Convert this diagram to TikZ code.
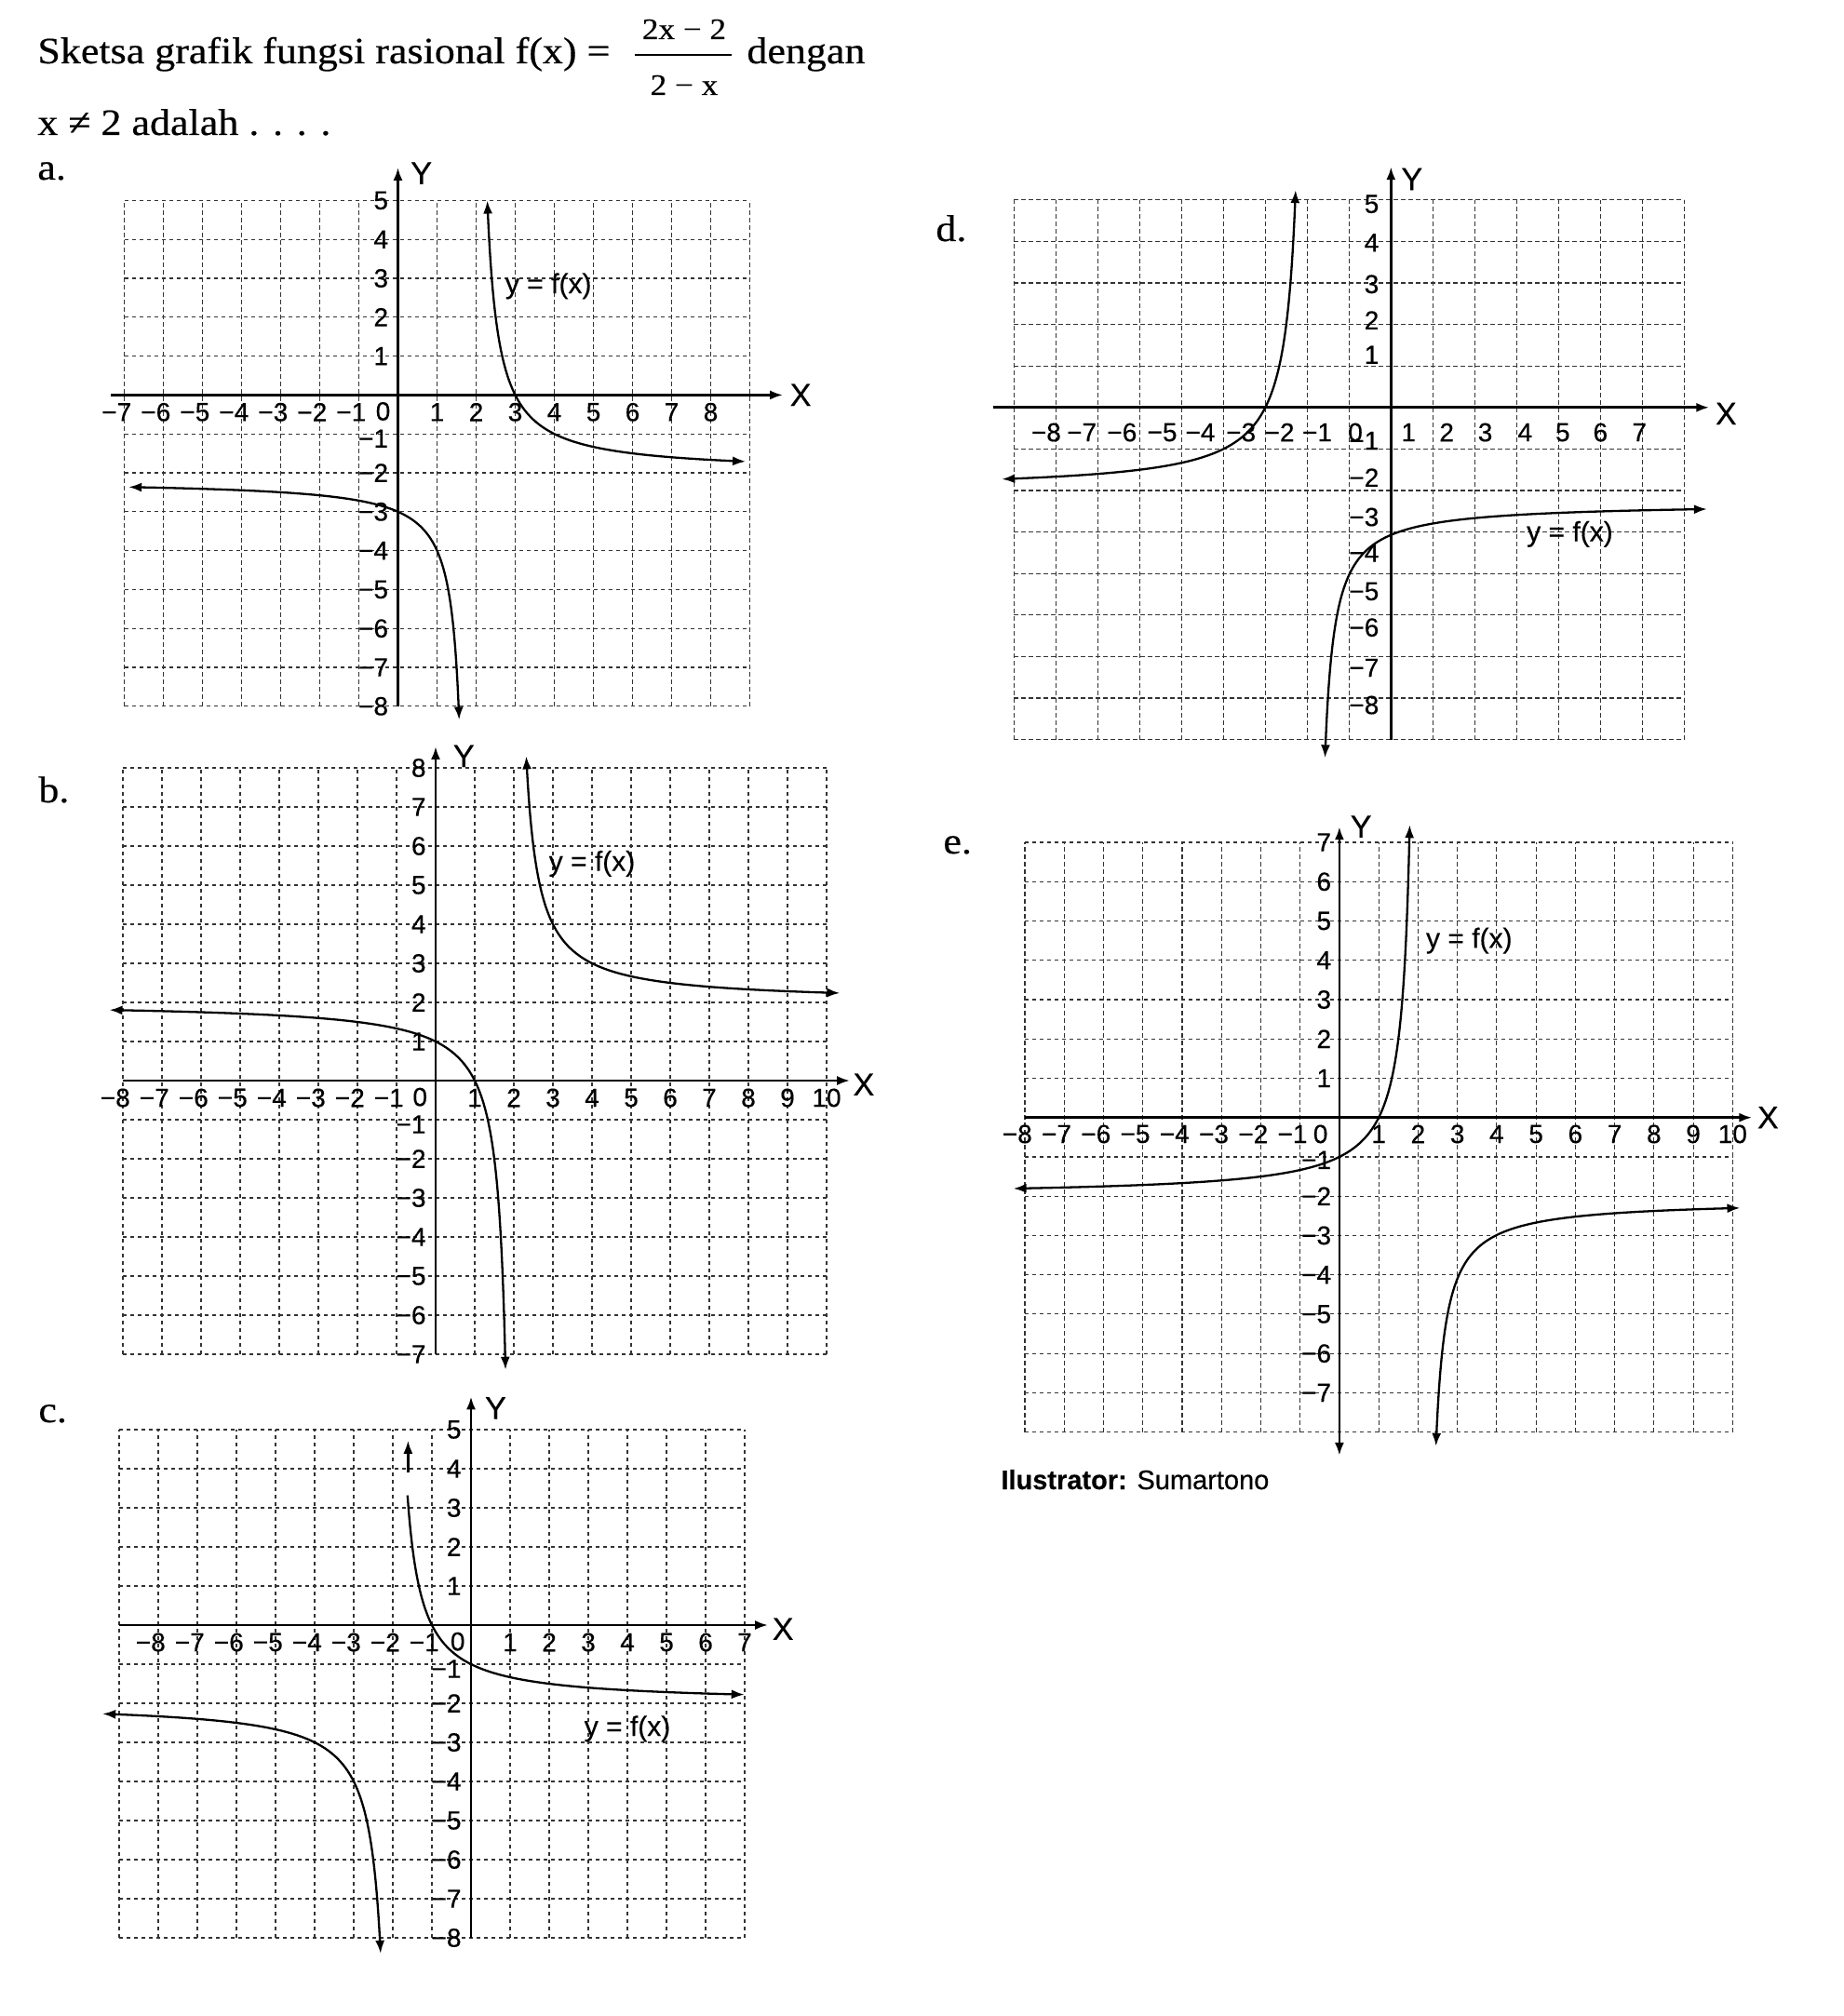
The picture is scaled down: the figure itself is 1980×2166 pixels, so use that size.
\documentclass[tikz,border=0pt]{standalone}
\usepackage{fontspec}
\setmainfont{Liberation Serif}[FakeStretch=1.1,FakeBold=0.4]
\newfontfamily\sansf{Liberation Sans}[FakeBold=0.35]
\usetikzlibrary{arrows.meta}
\tikzset{
  gridl/.style={line width=0.55pt, dash pattern=on 2.2pt off 1.8pt, black!80},
  axisl/.style={line width=1.4pt},
  curvel/.style={line width=1.15pt},
  tk/.style={font=\sansf\fontsize{14}{15}\selectfont, inner sep=0pt},
  xtk/.style={tk, anchor=center},
  ytk/.style={tk, anchor=east},
  axlab/.style={font=\sansf\fontsize{17}{18}\selectfont, inner sep=0pt},
  fxlab/.style={font=\sansf\fontsize{15}{16}\selectfont, inner sep=0pt},
  serif/.style={font=\fontsize{20}{24}\selectfont, inner sep=0pt, anchor=base west},
  fracf/.style={font=\fontsize{16}{18}\selectfont, inner sep=0pt, anchor=base},
  >={Latex[length=7pt,width=5pt]}
}
\begin{document}
\begin{tikzpicture}[x=0.5pt,y=-0.5pt]
\fill[white] (0,0) rectangle (1980,2166);
\useasboundingbox (0,0) rectangle (1980,2166);

% ---------- title ----------
\node[serif] (t1) at (40,68) {Sketsa grafik fungsi rasional f(x) =};
\node[fracf] (num) at (735,42) {2x − 2};
\node[fracf] (den) at (735,102) {2 − x};
\coordinate (barL) at (682,59);
\coordinate (barR) at (786,59);
\draw[line width=0.9pt] (barL) -- (barR);
\node[serif] (t2) at (802,68) {dengan};
\node[serif] (t3) at (40,145) {x ≠ 2 adalah . . . .};
\node[serif] (la) at (40,193) {a.};
\node[serif] (lb) at (41,862) {b.};
\node[serif] (lc) at (41,1528) {c.};
\node[serif] (ld) at (1005,259) {d.};
\node[serif] (le) at (1013,917) {e.};
\node[anchor=base west, inner sep=0pt, font=\sansf\fontsize{14.5}{16}\selectfont] (ilu) at (1075,1600) {\textbf{Ilustrator:} Sumartono};

% ---------- graph a ----------
\begin{scope}[shift={(213.75pt,-212.2pt)}, x=21pt, y=20.9pt]
  \foreach \i in {-7,...,9} \draw[gridl] (\i,-8) -- (\i,5);
  \foreach \j in {-8,...,5} \draw[gridl] (-7,\j) -- (9,\j);
  \draw[axisl,->] (-7.35,0) -- (9.85,0);
  \draw[axisl,->] (0,-8) -- (0,5.85);
  \node[axlab] (aY) at (0.6,5.7) {Y};
  \node[axlab] (aX) at (10.3,0) {X};
  \foreach \i in {1,...,7} \node[xtk] (axn\i) at (-\i,-0.44) {\llap{−}\i};
  \foreach \i in {1,...,8} \node[xtk] (axp\i) at (\i,-0.44) {\i};
  \node[xtk] (ax0) at (-0.38,-0.42) {0};
  \foreach \i in {1,...,5} \node[ytk] (ayp\i) at (-0.24,\i) {\i};
  \node[ytk] (ayn1) at (-0.24,-1.12) {−1};
  \foreach \i in {2,...,8} \node[ytk] (ayn\i) at (-0.24,-\i) {−\i};
  \draw[curvel,<->] plot[domain=-1.599:1.585, samples=90, variable=\t, smooth]
    ({2+1.4142*exp(\t)},{-2+1.4142*exp(-\t)});
  \draw[curvel,<->] plot[domain=-1.634:1.981, samples=90, variable=\t, smooth]
    ({1.8-1.2*exp(\t)},{-2.2-1.2*exp(-\t)});
  \node[fxlab] (alab) at (3.85,2.8) {y = f(x)};
\end{scope}

% ---------- graph b ----------
\begin{scope}[shift={(234pt,-580.5pt)}, x=21pt, y=21pt]
  \foreach \i in {-8,...,10} \draw[gridl] (\i,-7) -- (\i,8);
  \foreach \j in {-7,...,8} \draw[gridl] (-8,\j) -- (10,\j);
  \draw[axisl,->] (-8,0) -- (10.6,0);
  \draw[axisl,->] (0,-7) -- (0,8.55);
  \node[axlab] (bY) at (0.72,8.3) {Y};
  \node[axlab] (bX) at (10.95,-0.1) {X};
  \foreach \i in {1,...,8} \node[xtk] (bxn\i) at (-\i,-0.44) {\llap{−}\i};
  \foreach \i in {1,...,10} \node[xtk] (bxp\i) at (\i,-0.44) {\i};
  \node[xtk] (bx0) at (-0.4,-0.42) {0};
  \foreach \i in {1,...,8} \node[ytk] (byp\i) at (-0.24,\i) {\i};
  \node[ytk] (byn1) at (-0.24,-1.12) {−1};
  \foreach \i in {2,...,7} \node[ytk] (byn\i) at (-0.24,-\i) {−\i};
  \draw[curvel,<->] plot[domain=-1.494:1.776, samples=90, variable=\t, smooth]
    ({2+1.4142*exp(\t)},{2+1.4142*exp(-\t)});
  \draw[curvel,<->] plot[domain=-1.894:1.991, samples=90, variable=\t, smooth]
    ({2-1.4142*exp(\t)},{2-1.4142*exp(-\t)});
  \node[fxlab] (blab) at (4.0,5.55) {y = f(x)};
\end{scope}

% ---------- graph c ----------
\begin{scope}[shift={(253pt,-873pt)}, x=21pt, y=21pt]
  \foreach \i in {-9,...,7} \draw[gridl] (\i,-8) -- (\i,5);
  \foreach \j in {-8,...,5} \draw[gridl] (-9,\j) -- (7,\j);
  \draw[axisl,->] (-9,0) -- (7.6,0);
  \draw[axisl,->] (0,-8) -- (0,5.85);
  \node[axlab] (cY) at (0.63,5.55) {Y};
  \node[axlab] (cX) at (7.98,-0.1) {X};
  \foreach \i in {1,...,8} \node[xtk] (cxn\i) at (-\i,-0.44) {\llap{−}\i};
  \foreach \i in {1,...,7} \node[xtk] (cxp\i) at (\i,-0.44) {\i};
  \node[xtk] (cx0) at (-0.34,-0.42) {0};
  \foreach \i in {1,...,5} \node[ytk] (cyp\i) at (-0.24,\i) {\i};
  \node[ytk] (cyn1) at (-0.24,-1.12) {−1};
  \foreach \i in {2,...,8} \node[ytk] (cyn\i) at (-0.24,-\i) {−\i};
  \draw[curvel,->] plot[domain=-1.325:1.851, samples=90, variable=\t, smooth]
    ({-2+1.4142*exp(\t)},{-2+1.4142*exp(-\t)});
  \coordinate (cA1) at (-1.61,3.9);
  \coordinate (cA2) at (-1.61,4.72);
  \draw[curvel,->] (cA1) -- (cA2);
  \draw[curvel,<->] plot[domain=-1.51:1.659, samples=90, variable=\t, smooth]
    ({-2-1.4142*exp(\t)},{-2-1.4142*exp(-\t)});
  \node[fxlab] (clab) at (4.0,-2.65) {y = f(x)};
\end{scope}

% ---------- graph d ----------
\begin{scope}[shift={(747.15pt,-218.9pt)}, x=22.5pt, y=22.3pt]
  \foreach \i in {-9,...,7} \draw[gridl] (\i,-8) -- (\i,5);
  \foreach \j in {-8,...,5} \draw[gridl] (-9,\j) -- (7,\j);
  \draw[axisl,->] (-9.5,0) -- (7.6,0);
  \draw[axisl,->] (0,-8) -- (0,5.8);
  \node[axlab] (dY) at (0.5,5.5) {Y};
  \node[axlab] (dX) at (8.0,-0.15) {X};
  \foreach \p/\s in {-8.05/8,-7.2/7,-6.24/6,-5.28/5,-4.37/4,-3.4/3,-2.48/2,-1.58/1}
    \node[xtk] (dxn\s) at (\p,-0.6) {\llap{−}\s};
  \foreach \p/\s in {0.42/1,1.33/2,2.25/3,3.2/4,4.1/5,5.0/6,5.93/7}
    \node[xtk] (dxp\s) at (\p,-0.6) {\s};
  \node[xtk] (dx0) at (-0.85,-0.6) {0};
  \foreach \p/\s in {4.9/5,3.97/4,2.97/3,2.1/2,1.27/1}
    \node[ytk] (dyp\s) at (-0.28,\p) {\s};
  \foreach \p/\s in {-0.8/1,-1.69/2,-2.64/3,-3.5/4,-4.43/5,-5.3/6,-6.27/7,-7.17/8}
    \node[ytk] (dyn\s) at (-0.28,\p) {−\s};
  \draw[curvel,<->] plot[domain=-1.633:1.641, samples=90, variable=\t, smooth]
    ({-2-1.4142*exp(\t)},{-2+1.4142*exp(-\t)});
  \draw[curvel,<->] plot[domain=-1.652:2.072, samples=90, variable=\t, smooth]
    ({-1.8+1.1773*exp(\t)},{-2.3-1.1773*exp(-\t)});
  \node[fxlab] (dlab) at (4.27,-3.05) {y = f(x)};
\end{scope}

% ---------- graph e ----------
\begin{scope}[shift={(719.45pt,-600.35pt)}, x=21.12pt, y=21.12pt]
  \foreach \i in {-8,...,10} \draw[gridl] (\i,-8) -- (\i,7);
  \foreach \j in {-8,...,7} \draw[gridl] (-8,\j) -- (10,\j);
  \draw[axisl,->] (-8,0) -- (10.5,0);
  \draw[axisl,<->] (0,-8.6) -- (0,7.4);
  \node[axlab] (eY) at (0.55,7.4) {Y};
  \node[axlab] (eX) at (10.9,0) {X};
  \foreach \i in {1,...,8} \node[xtk] (exn\i) at (-\i,-0.42) {\llap{−}\i};
  \foreach \i in {1,...,10} \node[xtk] (exp\i) at (\i,-0.42) {\i};
  \node[xtk] (ex0) at (-0.48,-0.42) {0};
  \foreach \i in {1,...,7} \node[ytk] (eyp\i) at (-0.2,\i) {\i};
  \node[ytk] (eyn1) at (-0.2,-1.08) {−1};
  \foreach \i in {2,...,7} \node[ytk] (eyn\i) at (-0.2,-\i) {−\i};
  \draw[curvel,<->] plot[domain=-1.899:1.986, samples=90, variable=\t, smooth]
    ({2-1.4142*exp(\t)},{-2+1.4142*exp(-\t)});
  \draw[curvel,<->] plot[domain=-1.599:1.844, samples=90, variable=\t, smooth]
    ({2.2+1.2649*exp(\t)},{-2.1-1.2649*exp(-\t)});
  \node[fxlab] (elab) at (3.3,4.5) {y = f(x)};
\end{scope}
\end{tikzpicture}
\end{document}
